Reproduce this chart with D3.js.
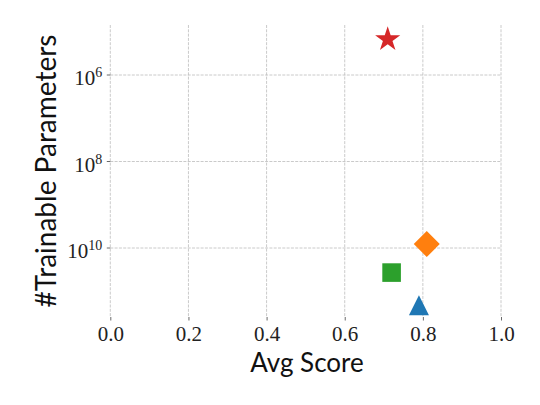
<!DOCTYPE html>
<html>
<head>
<meta charset="utf-8">
<script src="https://cdn.jsdelivr.net/npm/d3@7"></script>
<style>
  html, body { margin: 0; padding: 0; background: #fff; }
  svg { display: block; }
</style>
</head>
<body>
<svg id="chart" width="540" height="405"></svg>
<script>
// ---- data ----
const methods = ["star", "diamond", "square", "triangle"];
const avgScore = [0.71, 0.81, 0.72, 0.79];
const trainableParams = [1.4e5, 8.1e9, 3.7e10, 2.1e11];
const colors = ["#d62728", "#ff7f0e", "#2ca02c", "#1f77b4"];
const xTicks = [0.0, 0.2, 0.4, 0.6, 0.8, 1.0];
const yTickExps = [6, 8, 10];

// ---- layout ----
const plotLeft = 110.3, plotRight = 501, plotTop = 25, plotBottom = 317;
const svg = d3.select("#chart");

const x = d3.scaleLinear().domain([0, 1]).range([plotLeft, plotRight]);
// inverted log axis: small values on top
const y = d3.scaleLog().domain([Math.pow(10, 4.844), Math.pow(10, 11.595)]).range([plotTop, plotBottom]);

const gridColor = "#bdbdbd";
const tickColor = "#444";
const serif = "'Liberation Serif', 'DejaVu Serif', serif";
const sans = "Lato, 'Open Sans', 'DejaVu Sans', sans-serif";

// grid
const g = svg.append("g");
g.selectAll("line.vgrid").data(xTicks).join("line")
  .attr("x1", d => x(d)).attr("x2", d => x(d))
  .attr("y1", plotTop).attr("y2", plotBottom)
  .attr("stroke", gridColor).attr("stroke-width", 0.8)
  .attr("stroke-dasharray", "3,1.3");
g.selectAll("line.hgrid").data(yTickExps).join("line")
  .attr("x1", plotLeft).attr("x2", plotRight)
  .attr("y1", d => y(Math.pow(10, d))).attr("y2", d => y(Math.pow(10, d)))
  .attr("stroke", gridColor).attr("stroke-width", 0.8)
  .attr("stroke-dasharray", "3,1.3");

// x axis ticks + labels
const xAxis = d3.axisBottom(x).tickValues(xTicks).tickSize(3.5).tickPadding(0)
  .tickFormat(d3.format(".1f"));
const xg = svg.append("g").attr("transform", `translate(0,${plotBottom})`).call(xAxis);
xg.select(".domain").remove();
xg.selectAll(".tick line").attr("stroke", tickColor).attr("stroke-width", 0.8);
xg.selectAll(".tick text")
  .attr("y", 24).attr("dy", null)
  .attr("font-family", serif).attr("font-size", 21).attr("fill", "#222");

// y axis ticks + labels (10^n)
const yg = svg.append("g");
yg.selectAll("line").data(yTickExps).join("line")
  .attr("x1", plotLeft - 3.5).attr("x2", plotLeft)
  .attr("y1", d => y(Math.pow(10, d))).attr("y2", d => y(Math.pow(10, d)))
  .attr("stroke", tickColor).attr("stroke-width", 0.8);
const yl = yg.selectAll("text").data(yTickExps).join("text")
  .attr("x", plotLeft - 8)
  .attr("y", d => y(Math.pow(10, d)) + 10)
  .attr("text-anchor", "end")
  .attr("font-family", serif).attr("font-size", 21).attr("fill", "#222");
yl.append("tspan").text("10");
yl.append("tspan").attr("font-size", 14).attr("dy", -8).text(d => d);

// axis titles
svg.append("text")
  .attr("x", 307).attr("y", 372)
  .attr("text-anchor", "middle")
  .attr("font-family", sans).attr("font-size", 26).attr("fill", "#111")
  .text("Avg Score");
svg.append("text")
  .attr("transform", `translate(56,${(plotTop + plotBottom) / 2}) rotate(-90)`)
  .attr("text-anchor", "middle")
  .attr("font-family", sans).attr("font-size", 28).attr("fill", "#111")
  .text("#Trainable Parameters");

// marker shapes (relative to centre)
function starPath(R) {
  const r = R * 0.381966;
  const pts = [];
  for (let i = 0; i < 10; i++) {
    const a = -Math.PI / 2 + i * Math.PI / 5;
    const rr = i % 2 === 0 ? R : r;
    pts.push([rr * Math.cos(a), rr * Math.sin(a)]);
  }
  return "M" + pts.map(p => p.join(",")).join("L") + "Z";
}
function shapePath(kind) {
  if (kind === "star") return starPath(13.2);
  if (kind === "diamond") { const h = 13; return `M0,${-h}L${h},0L0,${h}L${-h},0Z`; }
  if (kind === "square") { const h = 9.3; return `M${-h},${-h}L${h},${-h}L${h},${h}L${-h},${h}Z`; }
  if (kind === "triangle") { const h = 10; return `M0,${-h}L${h},${h}L${-h},${h}Z`; }
}

const starOffset = 13.2 * (1 - Math.cos(Math.PI / 5)) / 2; // centre star bbox like matplotlib
svg.append("g").selectAll("path").data(methods).join("path")
  .attr("d", d => shapePath(d))
  .attr("transform", (d, i) => `translate(${x(avgScore[i])},${y(trainableParams[i]) + (d === "star" ? starOffset : 0)})`)
  .attr("fill", (d, i) => colors[i]);
</script>
</body>
</html>
